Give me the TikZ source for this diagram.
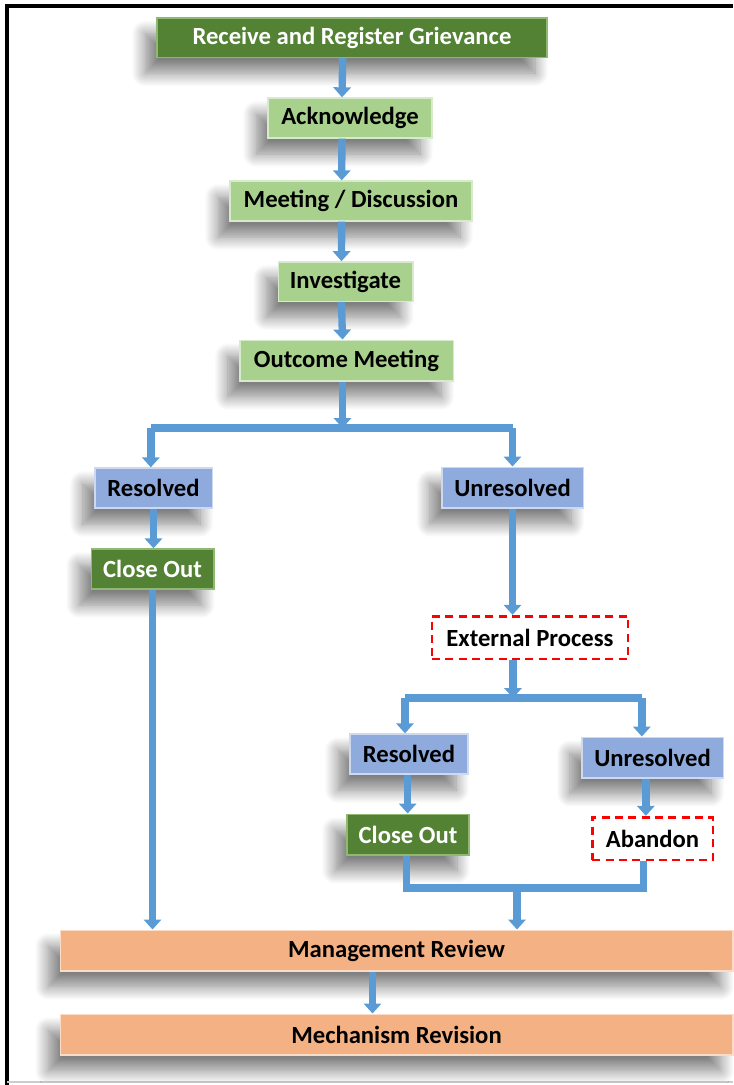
\documentclass[tikz,border=0pt]{standalone}
\usepackage{fontspec}
\setmainfont{Carlito}
\usetikzlibrary{arrows.meta,positioning,shadows.blur}
\definecolor{dkgreen}{HTML}{548235}
\definecolor{ltgreen}{HTML}{A9D18E}
\definecolor{stepblue}{HTML}{8FAADC}
\definecolor{peach}{HTML}{F4B183}
\definecolor{pipeblue}{HTML}{5B9BD5}
\tikzset{
  box/.style={rectangle,inner sep=0pt,line width=1pt,
    font=\bfseries\fontsize{18.5}{22}\selectfont,
    blur shadow={shadow xshift=-9pt,shadow yshift=-12pt,shadow blur radius=10pt,
      shadow blur steps=14,shadow opacity=50}},
  darkbox/.style={box,fill=dkgreen,draw=ltgreen!70!dkgreen,text=white},
  lightbox/.style={box,fill=ltgreen,draw=ltgreen!45!white},
  bluebox/.style={box,fill=stepblue,draw=stepblue!45!white},
  peachbox/.style={box,fill=peach,draw=peach!45!white},
  dashbox/.style={rectangle,inner sep=0pt,fill=white,draw=red,line width=2pt,
    dash pattern=on 6pt off 4pt,font=\bfseries\fontsize{18.5}{22}\selectfont},
  pipe/.style={draw=pipeblue,line width=5.5pt},
  flow/.style={pipe,-{Triangle[width=13pt,length=7.5pt]}}
}
\begin{document}
\begin{tikzpicture}[x=0.75pt,y=-0.75pt]
\useasboundingbox (0,0) rectangle (733,1085);
\draw[line width=2.4pt] (7,1085) -- (7,6) -- (733,6);
\draw[gray!40,line width=1.5pt] (7,1082) -- (733,1082);

\node[darkbox,minimum width=292.5pt,minimum height=29.5pt] (recv) at (352,37.5) {Receive and Register Grievance};
\node[lightbox,minimum width=123pt,minimum height=30pt] (ack) at (350,118) {Acknowledge};
\node[lightbox,minimum width=181.5pt,minimum height=30pt] (meet) at (351,201) {Meeting / Discussion};
\node[lightbox,minimum width=101pt,minimum height=29.5pt] (inv) at (345.5,281.5) {Investigate};
\node[lightbox,minimum width=160pt,minimum height=30.5pt] (outc) at (346.5,360.5) {Outcome Meeting};

\node[bluebox,minimum width=88pt,minimum height=30pt] (resA) at (153.5,488) {Resolved};
\node[bluebox,minimum width=106pt,minimum height=30.5pt] (unresA) at (512.5,487.5) {Unresolved};
\node[darkbox,minimum width=92pt,minimum height=30pt] (closeA) at (152.5,569) {Close Out};
\node[dashbox,minimum width=147pt,minimum height=32pt] (ext) at (530,637.5) {External Process};

\node[bluebox,minimum width=88.5pt,minimum height=30pt] (resB) at (409,754) {Resolved};
\node[bluebox,minimum width=106pt,minimum height=30.5pt] (unresB) at (652.5,757.5) {Unresolved};
\node[darkbox,minimum width=91.5pt,minimum height=30.5pt] (closeB) at (408,834.5) {Close Out};
\node[dashbox,minimum width=90.5pt,minimum height=32pt] (aband) at (652.5,838.5) {Abandon};

\node[peachbox,minimum width=504.5pt,minimum height=30.5pt] (mgmt) at (396.5,950.5) {Management Review};
\node[peachbox,minimum width=504.5pt,minimum height=30.5pt] (mech) at (396.5,1034.5) {Mechanism Revision};

\coordinate (splitA) at (342.5,428);
\coordinate (splitB) at (513,698);
\coordinate (mergeB) at (517,888);

\draw[flow] ([xshift=-7pt]recv.south) -- ([xshift=-6pt]ack.north);
\draw[flow] ([xshift=-6pt]ack.south) -- ([xshift=-7pt]meet.north);
\draw[flow] ([xshift=-7pt]meet.south) -- ([xshift=-3pt]inv.north);
\draw[flow] ([xshift=-3pt]inv.south) -- ([xshift=-3pt]outc.north);

\draw[flow] (outc.south -| splitA) -- (splitA);
\draw[pipe] ([xshift=-2pt]resA.north |- splitA) -- (unresA.north |- splitA);
\draw[flow] ([xshift=-2pt]resA.north |- splitA) -- ([xshift=-2pt]resA.north);
\draw[flow] (unresA.north |- splitA) -- (unresA.north);
\draw[flow] (resA.south) -- (resA.south |- closeA.north);
\draw[flow] (closeA.south) -- (closeA.south |- mgmt.north);

\draw[flow] (unresA.south) -- (unresA.south |- ext.north);
\draw[flow] (ext.south -| splitB) -- (splitB);
\draw[pipe] ([xshift=-3pt]resB.north |- splitB) -- ([xshift=-8pt]unresB.north |- splitB);
\draw[flow] ([xshift=-3pt]resB.north |- splitB) -- ([xshift=-3pt]resB.north);
\draw[flow] ([xshift=-8pt]unresB.north |- splitB) -- ([xshift=-8pt]unresB.north);
\draw[flow] ([xshift=-1pt]resB.south) -- ([xshift=-1pt]resB.south |- closeB.north);
\draw[flow] ([xshift=-5pt]unresB.south) -- ([xshift=-5pt]aband.north);

\draw[pipe] ([xshift=-1pt]closeB.south) |- (mergeB) -| ([xshift=-7pt]aband.south);
\draw[flow] (mergeB) -- (mergeB |- mgmt.north);
\draw[flow] ([xshift=-18pt]mgmt.south) -- ([xshift=-18pt]mech.north);
\end{tikzpicture}
\end{document}
